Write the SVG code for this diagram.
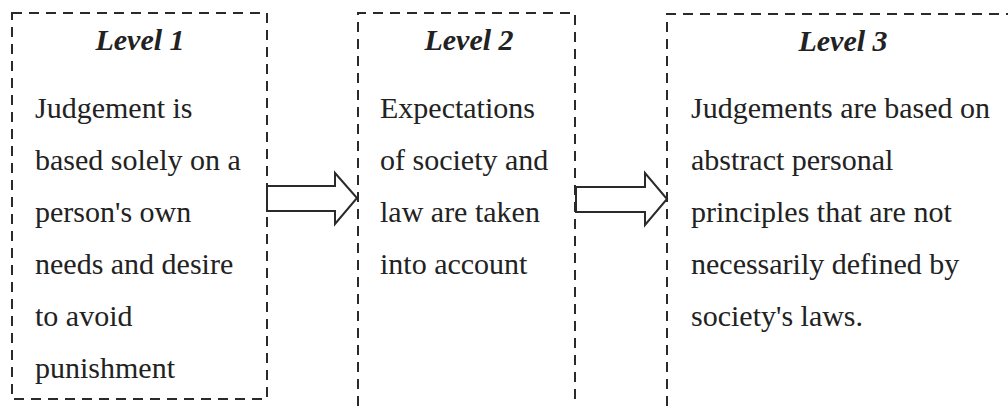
<svg xmlns="http://www.w3.org/2000/svg" width="1008" height="406" viewBox="0 0 1008 406">
<style>
.box{fill:none;stroke:#2a2a2a;stroke-width:2;stroke-dasharray:10 7}
.t{font-family:"Liberation Serif","Times New Roman",serif;font-size:30px;fill:#222}
.h{font-family:"Liberation Serif","Times New Roman",serif;font-size:30px;font-weight:bold;font-style:italic;fill:#222}
.arr{fill:#fff;stroke:#2a2a2a;stroke-width:2;stroke-linejoin:miter}
</style>
<rect width="1008" height="406" fill="#fff"/>
<g id="level1">
<path class="box" d="M12,13 H267 V399 H12 Z"/>
<text class="h" x="140" y="50" text-anchor="middle">Level 1</text>
<text class="t" x="35" y="118">Judgement is</text>
<text class="t" x="35" y="170">based solely on a</text>
<text class="t" x="35" y="222">person's own</text>
<text class="t" x="35" y="274">needs and desire</text>
<text class="t" x="35" y="326">to avoid</text>
<text class="t" x="35" y="378">punishment</text>
</g>
<g id="level2">
<path class="box" d="M358,406 V13 H575 V406"/>
<text class="h" x="469" y="50" text-anchor="middle">Level 2</text>
<text class="t" x="380" y="118">Expectations</text>
<text class="t" x="380" y="170">of society and</text>
<text class="t" x="380" y="222">law are taken</text>
<text class="t" x="380" y="274">into account</text>
</g>
<g id="level3">
<path class="box" d="M667,406 V14 H1012"/>
<text class="h" x="843" y="51" text-anchor="middle">Level 3</text>
<text class="t" x="691" y="118">Judgements are based on</text>
<text class="t" x="691" y="170">abstract personal</text>
<text class="t" x="691" y="222">principles that are not</text>
<text class="t" x="691" y="274">necessarily defined by</text>
<text class="t" x="691" y="326">society's laws.</text>
</g>
<g id="connectors">
<polygon class="arr" points="267,186 335,186 335,173 357,198 335,224 335,211 267,211"/>
<polygon class="arr" points="576,187 645,187 645,173 667,199 645,225 645,212 576,212"/>
</g>
</svg>
